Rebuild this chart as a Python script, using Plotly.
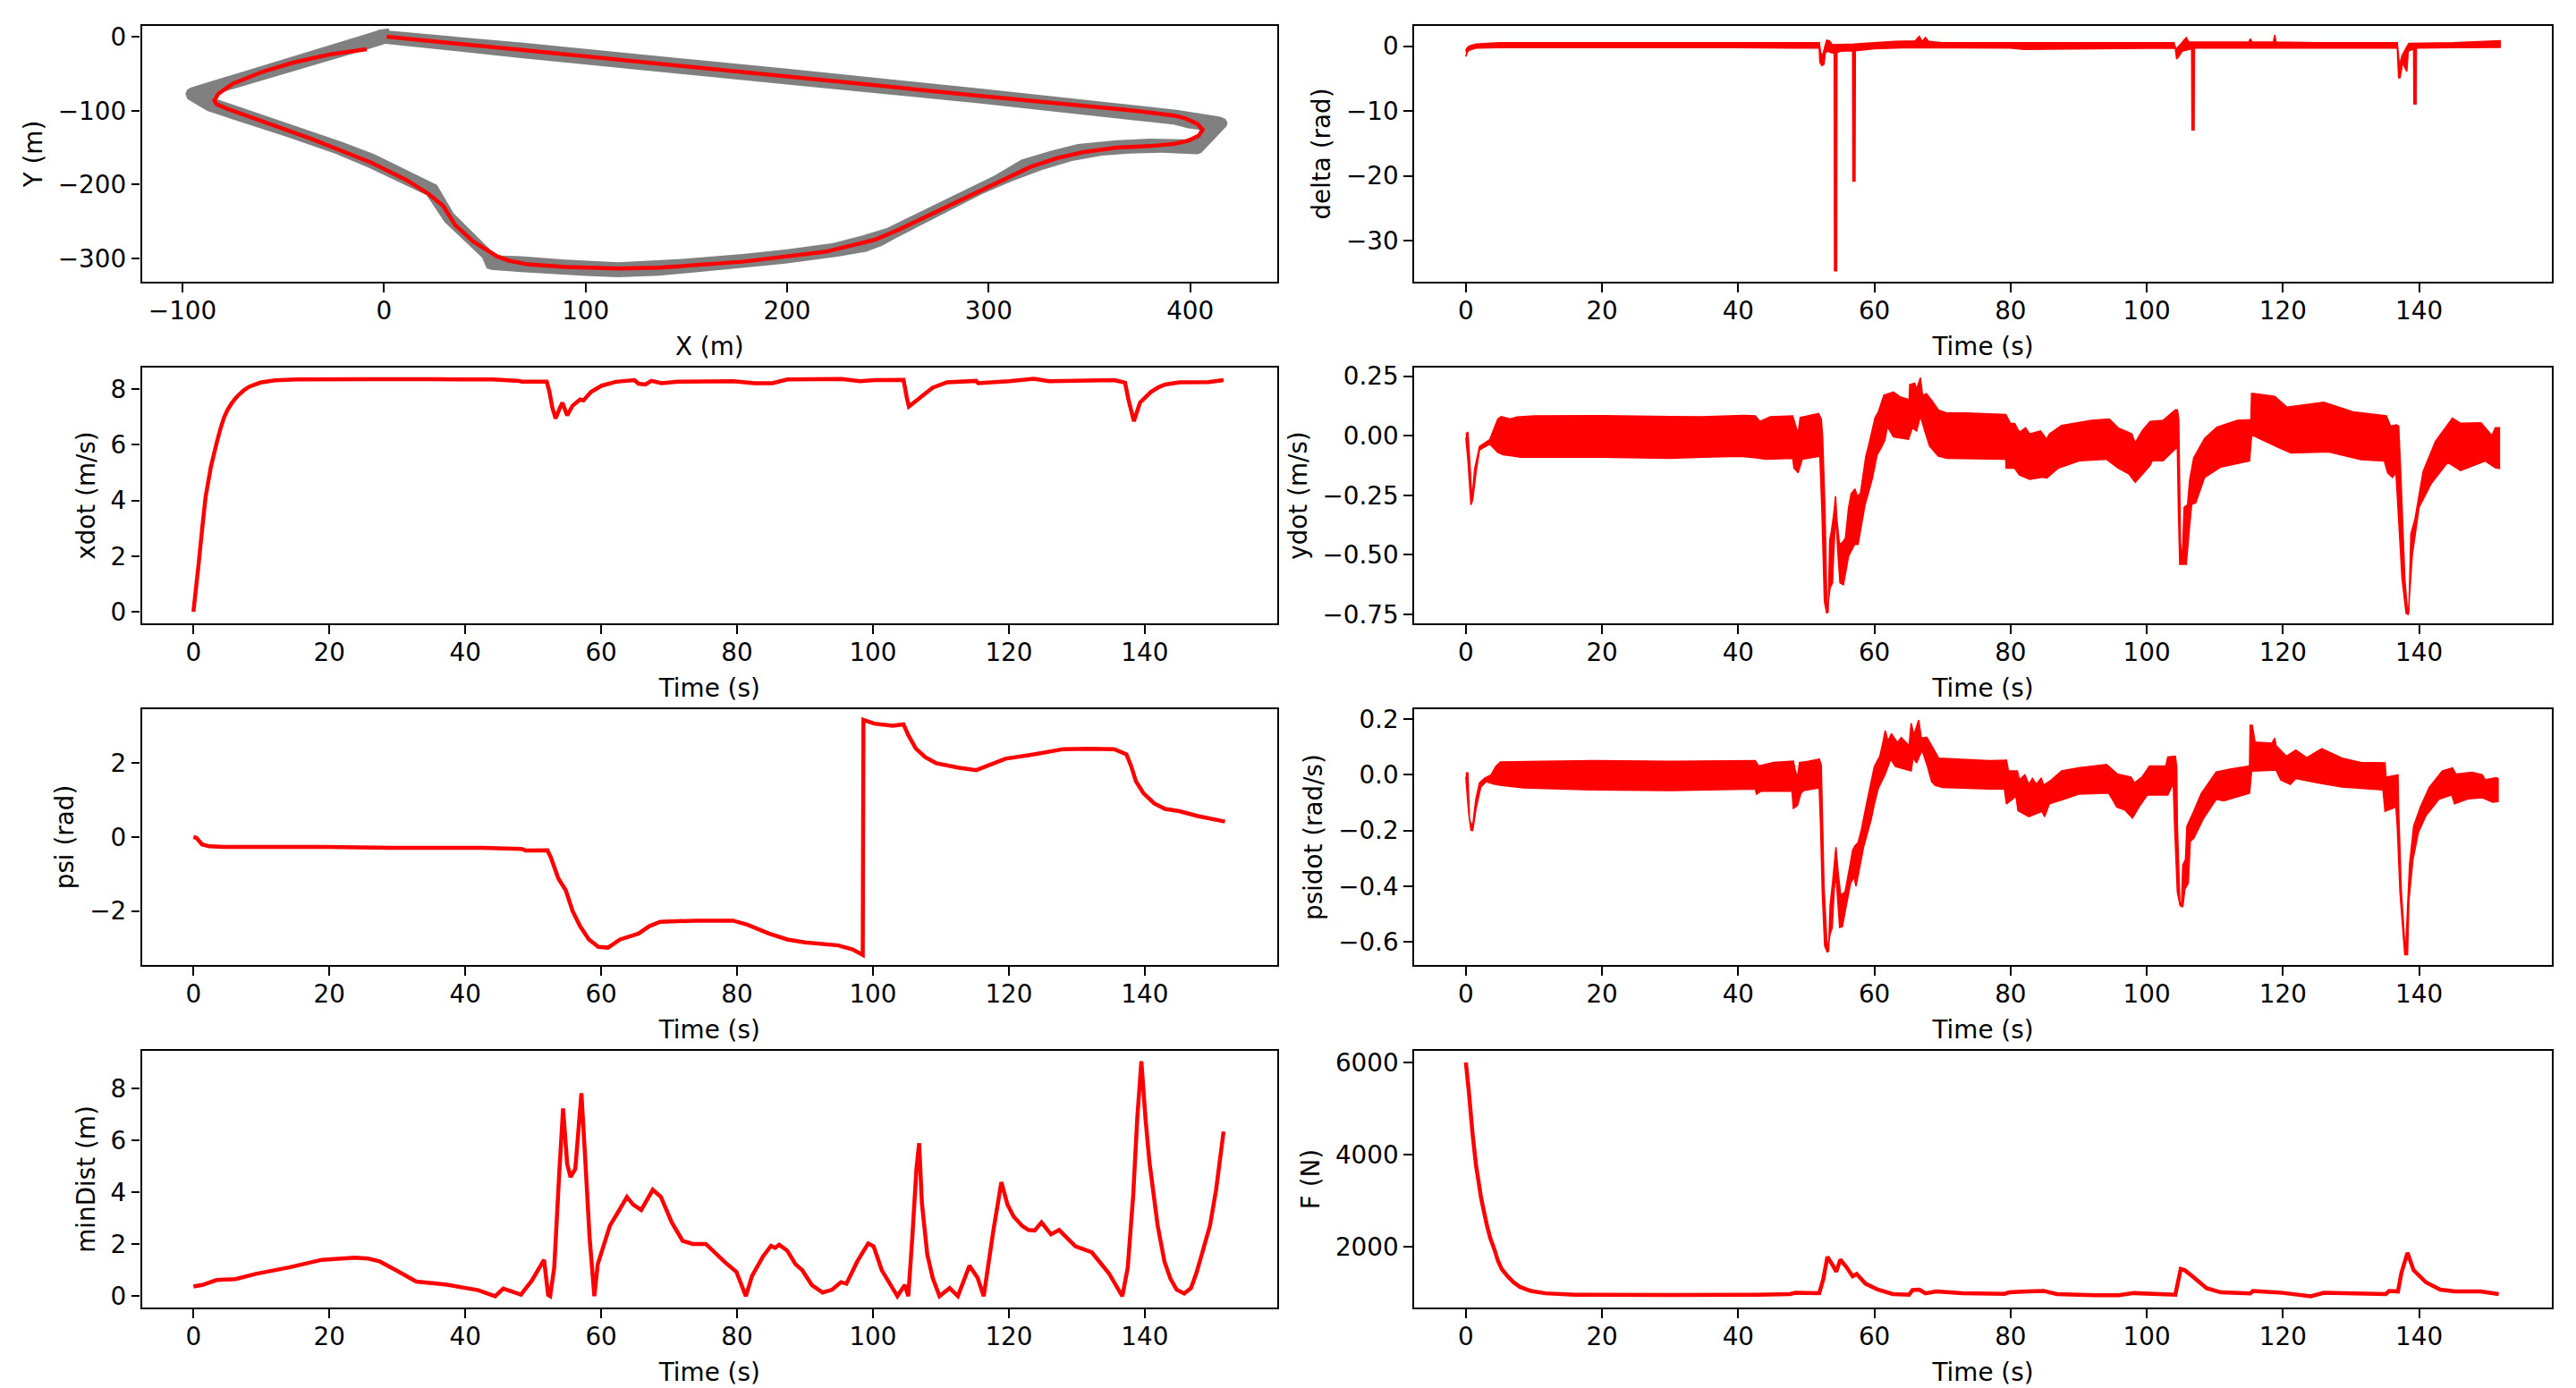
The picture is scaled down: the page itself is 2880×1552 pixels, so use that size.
import plotly.graph_objects as go

# ---------- values ----------
track_outer = [(2.5,11.7),(-2.7,9.7),(-3.4,8.5),(-95.7,-68.2),(-97.6,-71),(-98.6,-77.1),(-97.6,-84),(-87.5,-100.5),(-48,-135.6),(-24.3,-157.9),(-7.9,-176.8),(21.1,-214.4),(30,-250.7),(48.7,-299.2),(50.9,-313.3),(53.1,-315.3),(68,-318.5),(85,-321.3),(100,-323.7),(116.3,-325.4),(136.8,-323.4),(165,-316),(198.3,-307.2),(225,-297.5),(239.2,-291),(247,-283),(253.6,-273),(297,-212.4),(312,-195),(326.6,-180),(341.4,-168),(356.2,-160.7),(370,-157.8),(385.8,-156.7),(400.6,-158.7),(403.5,-158.9),(405.5,-157),(418,-121),(418.6,-116),(417.5,-111),(415,-108),(393.2,-98.5),(297,-70),(200,-43),(68,-7.5),(2.5,8.5),(2.5,11.7)]
track_inner = [(0.7,-9.3),(68,-28.5),(200,-64.5),(297,-90.3),(391.7,-118.7),(399,-123.6),(404.2,-125.6),(405.5,-132),(397.6,-138.5),(379.8,-137.7),(363.6,-139.7),(344.3,-145),(331,-153.9),(316.2,-166),(302.7,-188),(249.5,-258.8),(237,-269),(222.9,-279),(200,-287.5),(177.8,-293.9),(148,-300.5),(116.3,-305.2),(90,-301.5),(68,-297),(55.4,-295.9),(53.9,-291.1),(34.5,-238.6),(26.3,-200.2),(-4.9,-158.7),(-21.3,-141.7),(-83,-84),(-84.5,-81.1),(-80.5,-75.1),(-7.9,-16.6),(0.7,-9.3)]
path_xy = [(1.3,0.4),(68,-17.4),(200,-53.5),(297,-80),(371,-99.4),(392,-106.5),(397.6,-110.3),(403.5,-117.5),(406.2,-125.6),(404.2,-133.7),(399,-140.5),(391.7,-145),(379.8,-147.8),(363.6,-149.8),(347.3,-155.9),(334,-164),(320.7,-176),(300.7,-202),(255.6,-260.8),(243.3,-274.9),(218.8,-291),(177.8,-304.4),(136.8,-312.5),(116.3,-313.7),(90,-311.5),(71.3,-308),(62,-303),(56.1,-297.1),(44.2,-276.9),(35.3,-254.7),(29.3,-228.5),(21.9,-212.3),(11.5,-194.2),(-6.4,-170),(-36.2,-137.7),(-77.8,-97.3),(-83,-91.2),(-84.2,-86),(-82.3,-77.1),(-74.9,-63),(-60,-46.8),(-45.1,-34.7),(-27.2,-23.8),(-8.6,-16.6)]

delta_upper = [(0,-0.8),(0.1,-0.4),(0.5,0.0),(1.5,0.3),(5,0.5),(50,0.5),(51.9,0.5),(52.1,-1),(52.4,-1.5),(52.7,-0.2),(53,0.9),(53.4,0.8),(53.8,0.2),(57,0.3),(60,0.5),(63,0.7),(66,0.8),(66.6,1.5),(67,0.7),(67.5,1.3),(68,0.7),(70,0.5),(104,0.5),(104.3,-0.5),(105,0.3),(105.8,1.3),(106.2,0.6),(115,0.6),(115.2,1.1),(115.5,0.6),(118.6,0.6),(118.8,1.7),(119,0.6),(125,0.5),(136.8,0.5),(137.1,-3),(137.5,-1.5),(138,-0.5),(138.5,0.4),(145,0.5),(151.9,0.8)]
delta_lower = [(0,-1.6),(0.2,-1),(0.5,-0.6),(1.5,-0.3),(5,-0.25),(40,-0.25),(48,-0.3),(51.9,-0.3),(52.0,-2.5),(52.3,-3.0),(52.6,-2.8),(52.8,-1.0),(53.2,-0.8),(53.6,-1.0),(54.1,-1.1),(54.15,-34.6),(54.45,-34.6),(54.5,-1.0),(55,-0.8),(56.8,-0.7),(56.85,-20.8),(57.15,-20.8),(57.2,-0.7),(60,-0.4),(65,-0.25),(80,-0.3),(82,-0.5),(100,-0.35),(103,-0.3),(104.2,-0.35),(104.4,-2.0),(104.7,-1.6),(105.2,-0.8),(106.6,-0.4),(106.65,-12.9),(106.95,-12.9),(107,-0.3),(136.8,-0.3),(137,-4.9),(137.2,-4.9),(137.6,-2.5),(138.0,-3.5),(138.2,-3.9),(138.4,-0.8),(139.2,-0.4),(139.25,-8.9),(139.55,-8.9),(139.6,-0.3),(145,-0.25),(151.9,-0.2)]

xdot = [(0,0),(0.75,1.67),(1.28,2.96),(1.8,4.14),(2.57,5.21),(3.42,6.07),(4.0,6.6),(4.5,6.98),(5.0,7.25),(5.56,7.47),(6.1,7.65),(6.63,7.79),(7.4,7.96),(8.2,8.09),(9.84,8.24),(12,8.32),(15.2,8.35),(24.8,8.36),(35.5,8.36),(44,8.35),(48,8.3),(48.3,8.27),(52,8.27),(52.4,7.9),(52.8,7.36),(53.3,6.95),(53.9,7.31),(54.3,7.52),(55,7.06),(55.8,7.41),(56.9,7.63),(57.4,7.6),(58.5,7.9),(60.1,8.13),(62.2,8.27),(64.9,8.33),(65.5,8.2),(66.5,8.17),(67.4,8.3),(68.9,8.22),(71.3,8.27),(79.4,8.29),(82.6,8.22),(85.2,8.22),(87.4,8.35),(95.4,8.37),(98.1,8.29),(100.2,8.33),(104.5,8.34),(105,7.68),(105.3,7.38),(106.6,7.63),(107.7,7.85),(108.8,8.06),(110.9,8.25),(115.2,8.3),(115.5,8.22),(120,8.29),(123.7,8.38),(125.9,8.29),(135.5,8.33),(137.1,8.24),(137.6,7.63),(138.4,6.85),(139.3,7.52),(140.9,7.9),(142,8.07),(143,8.17),(145.1,8.25),(149.4,8.26),(151.6,8.33)]

ydot_upper = [(0,0.007),(0.3,0.015),(0.55,-0.1),(0.9,-0.27),(1.3,-0.14),(2,-0.045),(3.5,-0.017),(4.7,0.07),(5.2,0.08),(6.5,0.07),(7.5,0.078),(10,0.083),(20,0.084),(30,0.08),(34.6,0.079),(40.8,0.085),(42.5,0.083),(43.2,0.06),(44.7,0.079),(48,0.083),(48.8,0.0075),(49.1,0.076),(51.8,0.093),(52.2,0.07),(52.4,-0.005),(52.75,-0.318),(53,-0.693),(53.2,-0.743),(53.45,-0.437),(53.67,-0.405),(54,-0.337),(54.3,-0.255),(54.5,-0.355),(54.86,-0.456),(55.3,-0.449),(55.75,-0.43),(56.2,-0.305),(56.6,-0.243),(57.15,-0.224),(57.5,-0.255),(57.95,-0.243),(58.75,-0.086),(59.3,-0.024),(60.1,0.076),(60.6,0.101),(61.4,0.17),(62.8,0.183),(63.7,0.164),(65.1,0.151),(65.2,0.214),(65.9,0.22),(66.2,0.195),(66.76,0.243),(67.07,0.17),(67.64,0.176),(68.5,0.145),(69.4,0.108),(70.7,0.095),(73.4,0.095),(79.3,0.089),(80,0.051),(80.6,0.051),(81.3,0.014),(82.2,0.033),(82.8,0.0075),(84.4,0.02),(85.3,-0.015),(85.7,0.0075),(87.5,0.043),(89.2,0.051),(91.9,0.064),(94.5,0.07),(95.8,0.033),(97.8,0.0075),(98.3,-0.03),(99.4,0.023),(100.5,0.06),(102.4,0.064),(104.2,0.108),(104.5,0.108),(104.7,0.07),(104.95,-0.45),(105.2,-0.53),(105.5,-0.3),(106,-0.29),(106.3,-0.187),(106.9,-0.093),(108.5,-0.011),(110.3,0.036),(113.3,0.064),(115.3,0.067),(115.4,0.177),(115.7,0.177),(118.8,0.165),(120.6,0.12),(126,0.14),(130.3,0.1),(135.2,0.083),(135.8,0.04),(136.7,0.045),(137,0.04),(137.3,-0.15),(137.9,-0.6),(138.3,-0.74),(138.5,-0.74),(138.8,-0.413),(139.4,-0.35),(140.6,-0.15),(142.4,-0.024),(144.9,0.074),(146.1,0.052),(149.1,0.054),(150.7,0),(151.2,0.033),(151.8,0.033)]
ydot_lower = [(0,-0.007),(0.3,-0.1),(0.75,-0.29),(1,-0.27),(1.5,-0.15),(2,-0.06),(3.5,-0.035),(4.7,-0.07),(5.5,-0.08),(7,-0.085),(8,-0.09),(20,-0.09),(30,-0.095),(34.6,-0.09),(40.3,-0.086),(42.7,-0.093),(44.1,-0.099),(48,-0.095),(48.2,-0.136),(48.8,-0.155),(49.4,-0.099),(52,-0.086),(52.3,-0.318),(52.66,-0.693),(53,-0.746),(53.5,-0.637),(53.85,-0.618),(54,-0.506),(54.2,-0.393),(54.4,-0.368),(54.65,-0.493),(54.95,-0.618),(55.45,-0.625),(56.2,-0.506),(57.1,-0.456),(57.6,-0.456),(58.6,-0.293),(59.7,-0.18),(60.4,-0.08),(61.03,-0.049),(61.56,-0.0175),(61.9,0.039),(62.8,-0.005),(65,-0.015),(65.57,0.033),(66.2,0.02),(66.76,0.083),(67.4,0.02),(68.1,-0.043),(69.4,-0.086),(70.7,-0.095),(79.3,-0.099),(79.35,-0.136),(80.6,-0.136),(81.3,-0.165),(82.8,-0.183),(84.8,-0.174),(85.3,-0.178),(87,-0.136),(90.1,-0.105),(94.1,-0.099),(95.8,-0.136),(97.4,-0.161),(98.3,-0.195),(99.4,-0.161),(100.5,-0.124),(100.8,-0.105),(102.4,-0.105),(104.2,-0.055),(104.5,-0.05),(104.65,-0.3),(104.85,-0.54),(105.8,-0.54),(106.3,-0.376),(106.6,-0.288),(107.2,-0.281),(108.5,-0.175),(110.9,-0.131),(115.1,-0.106),(115.4,0),(115.7,0),(119.4,-0.05),(121.2,-0.072),(126.7,-0.068),(131.5,-0.1),(134.9,-0.106),(135.4,-0.156),(136.1,-0.175),(136.6,-0.156),(136.8,-0.25),(137.5,-0.6),(138.1,-0.745),(138.4,-0.75),(139,-0.5),(140,-0.3),(141.8,-0.2),(144.2,-0.112),(146.1,-0.146),(149.7,-0.106),(151.2,-0.134),(151.8,-0.137)]

psi = [(0,0),(0.43,-0.02),(1.28,-0.2),(2.35,-0.25),(4.5,-0.267),(19.5,-0.267),(29.1,-0.29),(42.5,-0.29),(48.3,-0.32),(48.9,-0.364),(52.1,-0.356),(52.6,-0.55),(53.7,-1.12),(54.8,-1.44),(55.8,-2.0),(56.9,-2.41),(58.2,-2.77),(59.6,-2.97),(61,-2.99),(62.8,-2.77),(65.5,-2.61),(67.1,-2.41),(68.7,-2.29),(74,-2.26),(79.4,-2.26),(81.5,-2.37),(84.7,-2.61),(87.4,-2.77),(90,-2.85),(94.9,-2.93),(97,-3.04),(98.5,-3.19),(98.6,3.17),(100.2,3.07),(102.9,3.01),(104.5,3.05),(105.2,2.76),(106.3,2.4),(107.7,2.16),(109.3,2.0),(112.5,1.88),(115.2,1.81),(119.5,2.12),(123.7,2.24),(128,2.38),(131.8,2.39),(135.5,2.38),(137.3,2.24),(138,1.92),(138.7,1.51),(139.8,1.19),(141.4,0.91),(143,0.76),(145.1,0.7),(147.8,0.57),(151.8,0.42)]

psidot_upper = [(0,0.007),(0.3,0.007),(0.4,-0.078),(0.54,-0.163),(1.0,-0.185),(1.46,-0.088),(2,-0.029),(2.8,-0.011),(3.7,0),(4.4,0.03),(5.07,0.046),(11.2,0.049),(19.3,0.051),(30,0.049),(42.5,0.051),(43,0.032),(45.2,0.045),(48.1,0.049),(48.4,0.014),(48.7,-0.011),(49,0.044),(50.3,0.049),(51.9,0.057),(52.2,0.035),(52.3,-0.077),(52.6,-0.4),(53,-0.593),(53.27,-0.636),(53.5,-0.469),(53.9,-0.378),(54.35,-0.26),(54.7,-0.357),(55.05,-0.432),(55.7,-0.421),(56.5,-0.314),(56.8,-0.271),(57.15,-0.255),(57.6,-0.244),(58.1,-0.196),(58.8,-0.11),(60,0.03),(60.8,0.067),(61.25,0.116),(61.6,0.159),(62,0.121),(62.5,0.148),(63.4,0.116),(63.95,0.134),(65.1,0.105),(65.4,0.186),(65.8,0.143),(66.5,0.197),(66.9,0.132),(67.7,0.135),(68.9,0.084),(69.45,0.06),(76.9,0.051),(79.4,0.053),(79.7,0.014),(81,0.014),(81.3,-0.018),(82.1,0),(82.7,-0.034),(83.2,-0.013),(83.8,-0.034),(84.5,-0.011),(84.85,-0.037),(86,-0.018),(87.5,0.014),(90,0.025),(94.1,0.037),(95.7,0.003),(97.7,-0.008),(98.2,-0.029),(99.3,-0.008),(100.4,0.032),(102.8,0.032),(103.1,0.064),(104.2,0.067),(104.4,0.03),(104.5,-0.185),(104.85,-0.453),(105.1,-0.475),(105.3,-0.324),(105.7,-0.303),(105.9,-0.185),(106.9,-0.131),(108,-0.067),(110.2,0.01),(112.4,0.021),(115.1,0.032),(115.2,0.178),(115.5,0.178),(115.9,0.118),(118.4,0.114),(118.8,0.132),(119,0.105),(120.5,0.067),(121.9,0.089),(123.5,0.062),(125.7,0.094),(128.7,0.06),(131.4,0.045),(135,0.043),(135.15,-0.008),(136.9,0),(137,-0.131),(137.4,-0.421),(138,-0.646),(138.3,-0.485),(138.6,-0.324),(139.2,-0.185),(140.2,-0.115),(141.5,-0.045),(143.4,0.014),(144.9,0.025),(145.4,0.003),(147.8,0.009),(149.3,0),(149.7,-0.018),(151.3,-0.01),(151.6,-0.013)]
psidot_lower = [(0,-0.007),(0.4,-0.131),(0.75,-0.199),(1.0,-0.2),(1.5,-0.12),(2.2,-0.043),(3,-0.024),(4,-0.032),(5,-0.037),(8.5,-0.047),(19.3,-0.054),(30,-0.056),(42.5,-0.051),(42.7,-0.069),(43.3,-0.059),(47.9,-0.058),(48.1,-0.12),(48.7,-0.11),(49.2,-0.067),(49.6,-0.056),(51.9,-0.047),(52.1,-0.185),(52.35,-0.421),(52.7,-0.614),(53.1,-0.638),(53.5,-0.571),(53.8,-0.55),(54.1,-0.41),(54.35,-0.357),(54.6,-0.442),(54.9,-0.548),(55.3,-0.545),(55.7,-0.491),(56.5,-0.389),(57,-0.367),(57.3,-0.4),(57.7,-0.351),(58.4,-0.26),(59.5,-0.163),(60,-0.104),(60.55,-0.05),(61.6,0.003),(62.4,0.057),(63.1,0.03),(65.4,0.014),(65.7,0.062),(66.2,0.043),(67,0.089),(67.8,0.03),(68.4,-0.024),(68.9,-0.037),(70,-0.045),(76.9,-0.051),(79.1,-0.051),(79.4,-0.104),(80.8,-0.077),(81.1,-0.129),(82.7,-0.15),(84.6,-0.131),(85,-0.15),(85.7,-0.104),(87.8,-0.088),(90,-0.069),(94.4,-0.065),(95.6,-0.115),(96.8,-0.126),(97.9,-0.155),(99,-0.11),(100.1,-0.072),(103.1,-0.072),(103.9,-0.029),(104.1,-0.185),(104.5,-0.421),(104.9,-0.469),(105.3,-0.473),(105.6,-0.41),(106.1,-0.389),(106.4,-0.238),(106.9,-0.228),(108.3,-0.158),(110.2,-0.088),(111.3,-0.093),(115.1,-0.066),(115.4,0.014),(119,0.017),(119.7,-0.018),(121.1,-0.034),(121.9,-0.013),(125.2,-0.029),(128.7,-0.043),(134.7,-0.054),(135,-0.131),(136.6,-0.115),(136.8,-0.185),(137.2,-0.421),(137.9,-0.646),(138.3,-0.646),(138.5,-0.453),(139.1,-0.303),(139.9,-0.206),(141,-0.147),(142.9,-0.088),(144.8,-0.072),(145.2,-0.104),(147.2,-0.086),(149.3,-0.082),(150.8,-0.098),(151.6,-0.096)]

min_dist = [(0,0.37),(1.3,0.43),(3.4,0.62),(6.2,0.66),(9.2,0.86),(14.1,1.11),(18.9,1.4),(21.3,1.44),(23.8,1.48),(25.7,1.45),(27.4,1.34),(29.8,1.0),(32.8,0.56),(37.1,0.45),(41.9,0.23),(44.4,0),(45.6,0.29),(48.2,0.06),(49.8,0.6),(51.6,1.4),(52.2,0.05),(52.5,0),(53.1,1.1),(53.8,4.56),(54.4,7.23),(55,5.1),(55.5,4.59),(56.2,4.9),(57.1,7.82),(57.7,5.1),(58.3,2.26),(59,0),(59.5,1.23),(61.3,2.72),(62.5,3.24),(63.8,3.82),(64.7,3.53),(65.9,3.32),(67.6,4.1),(68.8,3.82),(70.4,2.84),(72,2.13),(73.5,2.01),(75.4,2.01),(78.3,1.29),(79.9,0.94),(81.3,0),(82.2,0.77),(83.8,1.52),(85,1.94),(85.6,1.86),(86.2,1.98),(87.4,1.75),(88.6,1.23),(89.6,1.0),(91,0.43),(92.6,0.14),(94,0.25),(95.3,0.54),(96.1,0.48),(97.7,1.34),(99.3,2.03),(100.1,1.92),(101.3,1.0),(103.6,0),(104.7,0.43),(105.2,0),(105.8,2.3),(106.4,4.9),(106.8,5.89),(107.2,3.6),(108,1.6),(108.8,0.7),(109.8,0),(111.3,0.31),(112.5,0),(114.2,1.17),(115.4,0.71),(116.3,0),(117.7,2.49),(118.9,4.39),(119.8,3.53),(120.7,3.07),(122,2.7),(122.9,2.55),(123.8,2.53),(124.8,2.84),(126.2,2.38),(127.4,2.55),(129.8,1.92),(132.2,1.69),(134.7,0.89),(136.7,0),(137.5,1.11),(138.3,3.89),(138.9,6.87),(139.5,9.05),(140.1,6.87),(140.7,5.14),(141.9,2.72),(142.9,1.33),(143.8,0.66),(144.7,0.25),(145.8,0.1),(146.8,0.31),(147.6,0.885),(148.6,1.8),(149.6,2.72),(150.5,4.1),(151.6,6.34)]

force = [(0,6000),(0.43,5380),(0.97,4470),(1.5,3760),(2.25,3050),(3.1,2460),(3.6,2180),(4.2,1940),(4.7,1700),(5.26,1520),(5.8,1420),(6.33,1330),(7,1230),(7.94,1130),(9.55,1040),(11.7,990),(16,960),(30,955),(42.8,960),(47.6,975),(48.4,1000),(51.9,995),(52.5,1300),(53.1,1780),(53.8,1620),(54.4,1460),(55,1720),(55.9,1560),(56.8,1360),(57.4,1410),(58.7,1200),(60.5,1070),(62.7,975),(65.1,960),(65.6,1060),(66.6,1070),(67.5,990),(69.1,1030),(72.9,995),(79.1,980),(79.8,1010),(82.5,1030),(84.9,1040),(86.8,975),(92.2,950),(95.9,950),(98.1,995),(104.2,960),(105,1520),(105.6,1490),(106.7,1360),(108.8,1100),(110.9,1010),(115.2,990),(115.6,1040),(120,1000),(124.1,925),(126,1000),(135.1,975),(135.6,1040),(136.9,1030),(137.4,1430),(138.3,1870),(139.2,1490),(141,1230),(143.1,1070),(145.3,1030),(149,1030),(151.7,975)]

x_ticks_time = [0, 20, 40, 60, 80, 100, 120, 140]
x_ticks_track = [-100, 0, 100, 200, 300, 400]
y_ticks_track = [0, -100, -200, -300]
y_ticks_delta = [0, -10, -20, -30]
y_ticks_xdot = [0, 2, 4, 6, 8]
y_ticks_ydot = [0.25, 0, -0.25, -0.5, -0.75]
y_ticks_psi = [-2, 0, 2]
y_ticks_psidot = [0.2, 0, -0.2, -0.4, -0.6]
y_ticks_dist = [0, 2, 4, 6, 8]
y_ticks_force = [2000, 4000, 6000]

# ---------- layout ----------
W, H = 2880, 1552
RED, GREY = "#ff0000", "#808080"
FONT = "DejaVu Sans"
FS = 27.8
LW = 4.5
COLS = [(158.5, 1428), (1581, 2853)]
ROWS = [(29, 315), (411, 697), (793, 1079), (1175, 1462)]
TIME_RANGE = [-7.6, 159.5]


def unzip(pts):
    return [p[0] for p in pts], [p[1] for p in pts]


fig = go.Figure()
panels = [
    (0, 0, "X (m)", "Y (m)", [-120.2, 443.2], [-331.5, 15], x_ticks_track, y_ticks_track, None),
    (1, 0, "Time (s)", "delta (rad)", TIME_RANGE, [-36.3, 3.1], x_ticks_time, y_ticks_delta, None),
    (0, 1, "Time (s)", "xdot (m/s)", TIME_RANGE, [-0.418, 8.78], x_ticks_time, y_ticks_xdot, None),
    (1, 1, "Time (s)", "ydot (m/s)", TIME_RANGE, [-0.7875, 0.286], x_ticks_time, y_ticks_ydot, ".2f"),
    (0, 2, "Time (s)", "psi (rad)", TIME_RANGE, [-3.46, 3.46], x_ticks_time, y_ticks_psi, None),
    (1, 2, "Time (s)", "psidot (rad/s)", TIME_RANGE, [-0.683, 0.236], x_ticks_time, y_ticks_psidot, ".1f"),
    (0, 3, "Time (s)", "minDist (m)", TIME_RANGE, [-0.437, 9.45], x_ticks_time, y_ticks_dist, None),
    (1, 3, "Time (s)", "F (N)", TIME_RANGE, [682, 6253], x_ticks_time, y_ticks_force, None),
]
layout = dict(
    width=W, height=H, autosize=False, showlegend=False,
    margin=dict(l=0, r=0, t=0, b=0, pad=0),
    paper_bgcolor="white", plot_bgcolor="white",
    font=dict(family=FONT, size=FS, color="black"),
)
common = dict(
    showgrid=False, zeroline=False, showline=True, mirror=True,
    linecolor="black", linewidth=2.2,
    ticks="outside", ticklen=9.7, tickwidth=2.2, tickcolor="black",
    tickfont=dict(family=FONT, size=FS, color="black"),
    automargin=False,
)
for i, (c, r, xt, yt, xr, yr, xtv, ytv, yf) in enumerate(panels):
    s = "" if i == 0 else str(i + 1)
    x0, x1 = COLS[c]
    y0, y1 = ROWS[r]
    layout["xaxis" + s] = dict(
        common, domain=[x0 / W, x1 / W], anchor="y" + s, range=xr,
        tickmode="array", tickvals=xtv, ticklabelstandoff=-3,
        title=dict(text=xt, font=dict(family=FONT, size=FS), standoff=14),
    )
    layout["yaxis" + s] = dict(
        common, domain=[1 - y1 / H, 1 - y0 / H], anchor="x" + s, range=yr,
        tickmode="array", tickvals=ytv, tickformat=yf if yf else "",
        title=dict(text=yt, font=dict(family=FONT, size=FS), standoff=9),
    )
fig.update_layout(**layout)


def line(pts, ax, color=RED, width=LW):
    x, y = unzip(pts)
    fig.add_trace(go.Scatter(x=x, y=y, mode="lines", xaxis="x" + ax, yaxis="y" + ax,
                             line=dict(color=color, width=width, simplify=False),
                             hoverinfo="skip"))


def band(upper, lower, ax):
    ux, uy = unzip(upper)
    lx, ly = unzip(lower)
    fig.add_trace(go.Scatter(x=ux + lx[::-1], y=uy + ly[::-1], mode="lines",
                             xaxis="x" + ax, yaxis="y" + ax, fill="toself", fillcolor=RED,
                             line=dict(color=RED, width=1.6, simplify=False),
                             hoverinfo="skip"))


# track: outer ring and inner ring form one closed ribbon
ox, oy = unzip(track_outer)
ix, iy = unzip(track_inner)
fig.add_trace(go.Scatter(x=ox + ix, y=oy + iy, mode="lines", xaxis="x", yaxis="y",
                         fill="toself", fillcolor=GREY,
                         line=dict(color=GREY, width=0, simplify=False), hoverinfo="skip"))
line(path_xy, "")
band(delta_upper, delta_lower, "2")
line(xdot, "3")
band(ydot_upper, ydot_lower, "4")
line(psi, "5")
band(psidot_upper, psidot_lower, "6")
line(min_dist, "7")
line(force, "8")

fig.write_html("out.html", config=dict(displayModeBar=False),
               post_script="document.body.style.margin='0';document.body.style.overflow='hidden';")
